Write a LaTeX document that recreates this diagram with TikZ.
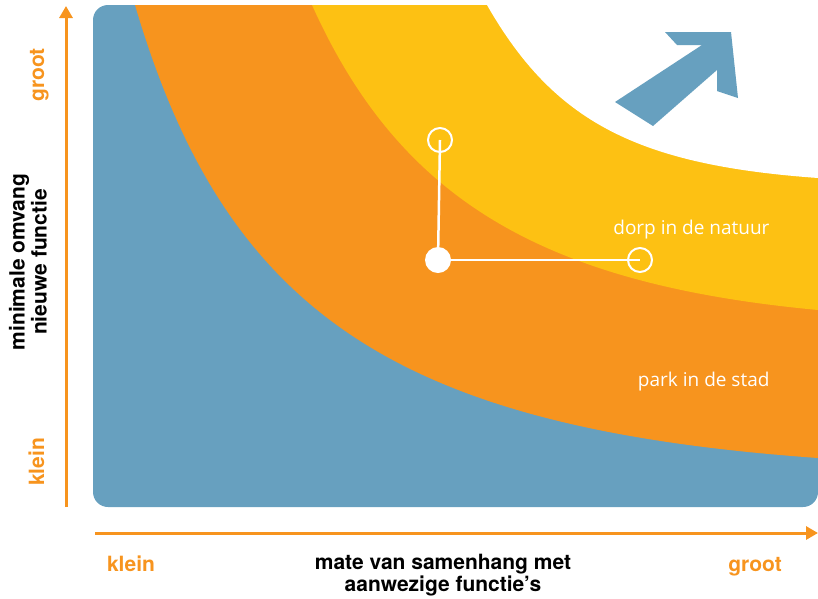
\documentclass[tikz,border=0pt]{standalone}
\usepackage{fontspec}
\setmainfont{TeX Gyre Heros}
\newfontfamily\bandfont{Open Sans}
\usetikzlibrary{arrows.meta}
\definecolor{zoneblue}{HTML}{67A0BF}
\definecolor{zoneorange}{HTML}{F7941E}
\definecolor{zoneyellow}{HTML}{FDC113}

\begin{document}
\begin{tikzpicture}[
        x=1pt, y=-1pt,
        axis/.style={draw=zoneorange, line width=3pt, -{Triangle[length=12pt,width=13pt]}},
        axislabel/.style={font=\fontsize{21}{22}\selectfont\bfseries, align=center},
        endlabel/.style={font=\fontsize{21}{22}\selectfont\bfseries, text=zoneorange},
        bandlabel/.style={font=\bandfont\fontsize{19}{22}\selectfont, text=white, anchor=base east},
        marker/.style={circle, draw=white, line width=2pt, minimum size=24pt, inner sep=0pt},
        current/.style={circle, fill=white, minimum size=26pt, inner sep=0pt},
        link/.style={white, line width=2.5pt}
    ]

    \useasboundingbox (0,0) rectangle (818,598);

    \begin{scope}
    \clip[rounded corners=15pt] (93,5) rectangle (818,507);
    \fill[zoneblue] (80,0) rectangle (830,520);
    \fill[zoneorange] (135,-10) -- (135,5) .. controls (226,314) and (397,428) .. (818,458)
        -- (830,458) -- (830,-10) -- cycle;
    \fill[zoneyellow] (312,-10) -- (312,5) .. controls (399,198) and (540,284) .. (818,310)
        -- (830,310) -- (830,-10) -- cycle;
    \end{scope}
    \fill[white] (487,-10) -- (487,5) .. controls (554,122) and (637,165) .. (818,178)
        -- (830,178) -- (830,-10) -- cycle;

    \fill[zoneblue] (615,102) -- (702,45) -- (677,45) -- (665,32) -- (731,32)
        -- (738,98) -- (717,91) -- (717,70) -- (653,126) -- cycle;

    \node[current] (now) at (438,260) {};
    \node[marker] (more) at (440,140) {};
    \node[marker] (wider) at (640,260) {};

    \draw[link] (now.center) -- (more.center);
    \draw[link] (now.center) -- (wider.center);

    \node[bandlabel] (dorp) at (773,234) {dorp in de natuur};
    \node[bandlabel] (park) at (773,386) {park in de stad};

    \coordinate (ylow) at (66,507);
    \coordinate (yhigh) at (66,6);
    \coordinate (xlow) at (95,533);
    \coordinate (xhigh) at (818,533);

    \draw[axis] (ylow) -- (yhigh);
    \draw[axis] (xlow) -- (xhigh);

    \node[endlabel, rotate=90, anchor=base] (ygroot) at (44,75) {groot};
    \node[endlabel, rotate=90, anchor=base] (yklein) at (44,462) {klein};
    \node[axislabel, rotate=90] (ytitle) at (28,262) {minimale omvang\\nieuwe functie};

    \node[endlabel, anchor=base] (xklein) at (131,571) {klein};
    \node[endlabel, anchor=base] (xgroot) at (755,571) {groot};
    \node[axislabel] (xtitle) at (443,575) {mate van samenhang met\\aanwezige functie’s};

\end{tikzpicture}
\end{document}
